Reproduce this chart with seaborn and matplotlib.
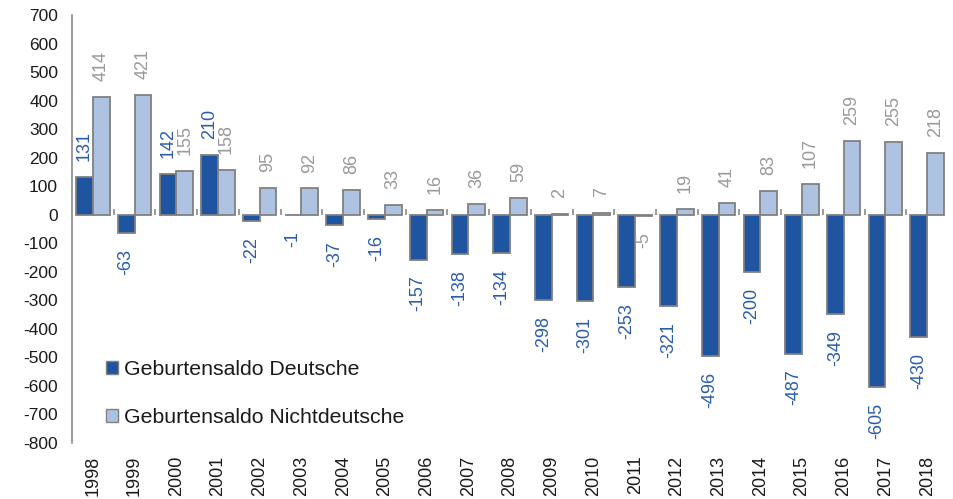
import matplotlib
matplotlib.use("Agg")
import matplotlib.pyplot as plt
from matplotlib.patches import Patch
import seaborn as sns
import pandas as pd

years = [str(y) for y in range(1998, 2019)]
deutsche = [131, -63, 142, 210, -22, -1, -37, -16, -157, -138, -134,
            -298, -301, -253, -321, -496, -200, -487, -349, -605, -430]
nichtdeutsche = [414, 421, 155, 158, 95, 92, 86, 33, 16, 36, 59,
                 2, 7, -5, 19, 41, 83, 107, 259, 255, 218]
series = ["Geburtensaldo Deutsche", "Geburtensaldo Nichtdeutsche"]
yticks = list(range(-800, 701, 100))

df = pd.DataFrame({
    "Jahr": years * 2,
    "Wert": deutsche + nichtdeutsche,
    "Serie": [series[0]] * len(years) + [series[1]] * len(years),
})

sns.set_theme(style="white")
plt.rcParams["font.family"] = ["Liberation Sans", "DejaVu Sans"]

bar_colors = ["#1F55A0", "#AEC3E2"]
label_colors = ["#2A5CAA", "#999999"]
grey = "#808080"

fig = plt.figure(figsize=(9.54, 4.99), dpi=100)
ax = fig.add_axes([72 / 954, 1 - 443 / 499, (948 - 72) / 954, (443 - 15) / 499])

sns.barplot(data=df, x="Jahr", y="Wert", hue="Serie", hue_order=series,
            palette=bar_colors, saturation=1, edgecolor=grey, linewidth=1.3,
            width=0.8, ax=ax, legend=False)

ax.set_xlim(-0.5, len(years) - 0.5)
ax.set_ylim(-800, 700)
ax.set_yticks(yticks)
ax.set_yticklabels([str(v) for v in yticks], fontsize=12.5, color="#1a1a1a")
ax.set_xlabel("")
ax.set_ylabel("")
ax.tick_params(axis="y", direction="out", length=4, width=1.1, color=grey, pad=6)
ax.tick_params(axis="x", length=0, pad=9, labelsize=13, labelcolor="#1a1a1a")
for lab in ax.get_xticklabels():
    lab.set_rotation(90)

for s in ["top", "right", "bottom"]:
    ax.spines[s].set_visible(False)
ax.spines["left"].set_color(grey)
ax.spines["left"].set_linewidth(1.1)

# zero line with category boundary ticks
sec = ax.secondary_xaxis(800 / 1500)
sec.set_xticks([i - 0.5 for i in range(1, len(years))])
sec.set_xticklabels([])
sec.tick_params(direction="out", length=4, width=1.1, color=grey)
sec.spines["bottom"].set_color(grey)
sec.spines["bottom"].set_linewidth(1.3)
for s in ["top", "left", "right"]:
    sec.spines[s].set_visible(False)

# data labels
for cont, vals, col in zip(ax.containers, [deutsche, nichtdeutsche], label_colors):
    for bar, v in zip(cont, vals):
        x = bar.get_x() + bar.get_width() / 2
        off = 11.5 if v >= 0 else -11.5
        ax.annotate(str(v), (x, v), xytext=(0, off), textcoords="offset points",
                    rotation=90, ha="center", va="bottom" if v >= 0 else "top",
                    fontsize=13, color=col)

handles = [Patch(facecolor=c, edgecolor=grey, linewidth=1.0) for c in bar_colors]
fig.legend(handles, series, loc="upper left", bbox_to_anchor=(106 / 954, 1 - 360 / 499),
           frameon=False, fontsize=15.3, handlelength=0.55, handleheight=0.55,
           handletextpad=0.3, labelspacing=1.35, borderpad=0, borderaxespad=0,
           labelcolor="#1a1a1a")

fig.savefig("out.png", dpi=100)
